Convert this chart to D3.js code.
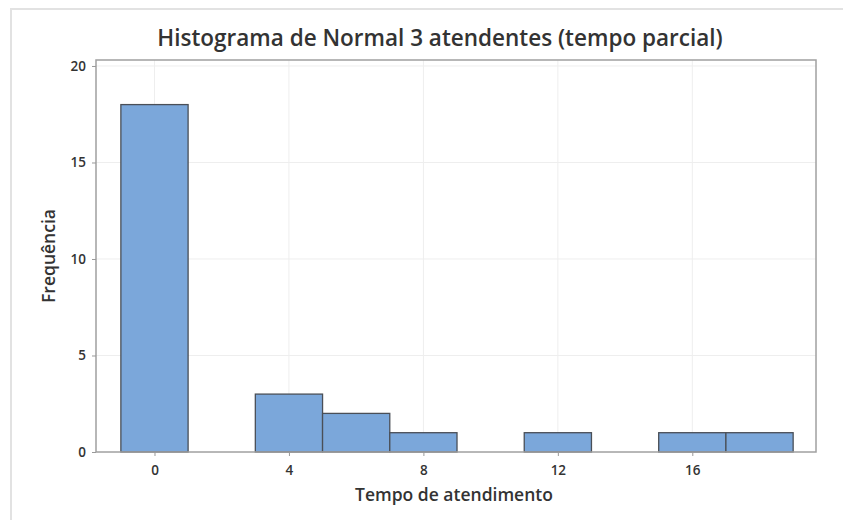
<!DOCTYPE html>
<html>
<head>
<meta charset="utf-8">
<script src="https://cdn.jsdelivr.net/npm/d3@7"></script>
<style>
  body { margin: 0; background: #fff; }
  svg text { font-family: "Open Sans", "Noto Sans", sans-serif; fill: #333; }
</style>
</head>
<body>
<div id="chart"></div>
<script>
// bin edges (width 2) and frequencies
const binStarts = [-1, 1, 3, 5, 7, 9, 11, 13, 15, 17];
const binWidth = 2;
const counts = [18, 0, 3, 2, 1, 0, 1, 0, 1, 1];
const xTicks = [0, 4, 8, 12, 16];
const yTicks = [0, 5, 10, 15, 20];

const title = 'Histograma de Normal 3 atendentes (tempo parcial)';
const xLabel = 'Tempo de atendimento';
const yLabel = 'Frequência';

const width = 843;
const height = 520;
const margin = { top: 60, right: 27, bottom: 68, left: 96 };

const svg = d3.select('#chart')
  .append('svg')
  .attr('width', width)
  .attr('height', height);

// outer frame
svg.append('path')
  .attr('d', `M11,${height} V9 H${width}`)
  .attr('fill', 'none')
  .attr('stroke', '#e2e2e2')
  .attr('stroke-width', 2);

const innerW = width - margin.left - margin.right;
const innerH = height - margin.top - margin.bottom;

const x = d3.scaleLinear().domain([-1.74, 19.68]).range([0, innerW]);
const y = d3.scaleLinear().domain([0, 20.31]).range([innerH, 0]);

const plot = svg.append('g')
  .attr('transform', `translate(${margin.left},${margin.top})`);

// gridlines
plot.append('g').attr('class', 'grid')
  .selectAll('line.gy')
  .data(yTicks.filter((d) => d > 0))
  .join('line')
  .attr('x1', 0).attr('x2', innerW)
  .attr('y1', (d) => y(d)).attr('y2', (d) => y(d))
  .attr('stroke', '#eeeeee');

plot.select('g.grid')
  .selectAll('line.gx')
  .data(xTicks)
  .join('line')
  .attr('class', 'gx')
  .attr('y1', 0).attr('y2', innerH)
  .attr('x1', (d) => x(d)).attr('x2', (d) => x(d))
  .attr('stroke', '#eeeeee');

// bars
plot.append('g')
  .selectAll('rect')
  .data(binStarts.map((s, i) => ({ s, n: counts[i] })).filter((d) => d.n > 0))
  .join('rect')
  .attr('x', (d) => x(d.s))
  .attr('width', (d) => x(d.s + binWidth) - x(d.s))
  .attr('y', (d) => y(d.n))
  .attr('height', (d) => y(0) - y(d.n))
  .attr('fill', '#7ba7da')
  .attr('stroke', '#4a4f57')
  .attr('stroke-width', 1.3);

// frame
plot.append('rect')
  .attr('width', innerW)
  .attr('height', innerH)
  .attr('fill', 'none')
  .attr('stroke', '#a0a0a0')
  .attr('stroke-width', 1.5);

// axes
const xAxis = plot.append('g')
  .attr('transform', `translate(0,${innerH})`)
  .call(d3.axisBottom(x).tickValues(xTicks).tickSize(4).tickPadding(9));

const yAxis = plot.append('g')
  .call(d3.axisLeft(y).tickValues(yTicks).tickSize(4).tickPadding(6));

[xAxis, yAxis].forEach((a) => {
  a.select('.domain').remove();
  a.selectAll('line').attr('stroke', '#999');
  a.selectAll('text')
    .style('font-size', '13.5px')
    .style('font-weight', 600)
    .attr('fill', '#333');
});

// labels
svg.append('text')
  .attr('x', 440)
  .attr('y', 46)
  .attr('text-anchor', 'middle')
  .style('font-size', '22.5px')
  .style('font-weight', 600)
  .text(title);

svg.append('text')
  .attr('x', 454)
  .attr('y', 501)
  .attr('text-anchor', 'middle')
  .style('font-size', '17.5px')
  .style('font-weight', 600)
  .text(xLabel);

svg.append('text')
  .attr('transform', `translate(55,${margin.top + innerH / 2}) rotate(-90)`)
  .attr('text-anchor', 'middle')
  .style('font-size', '17.5px')
  .style('font-weight', 600)
  .text(yLabel);
</script>
</body>
</html>
